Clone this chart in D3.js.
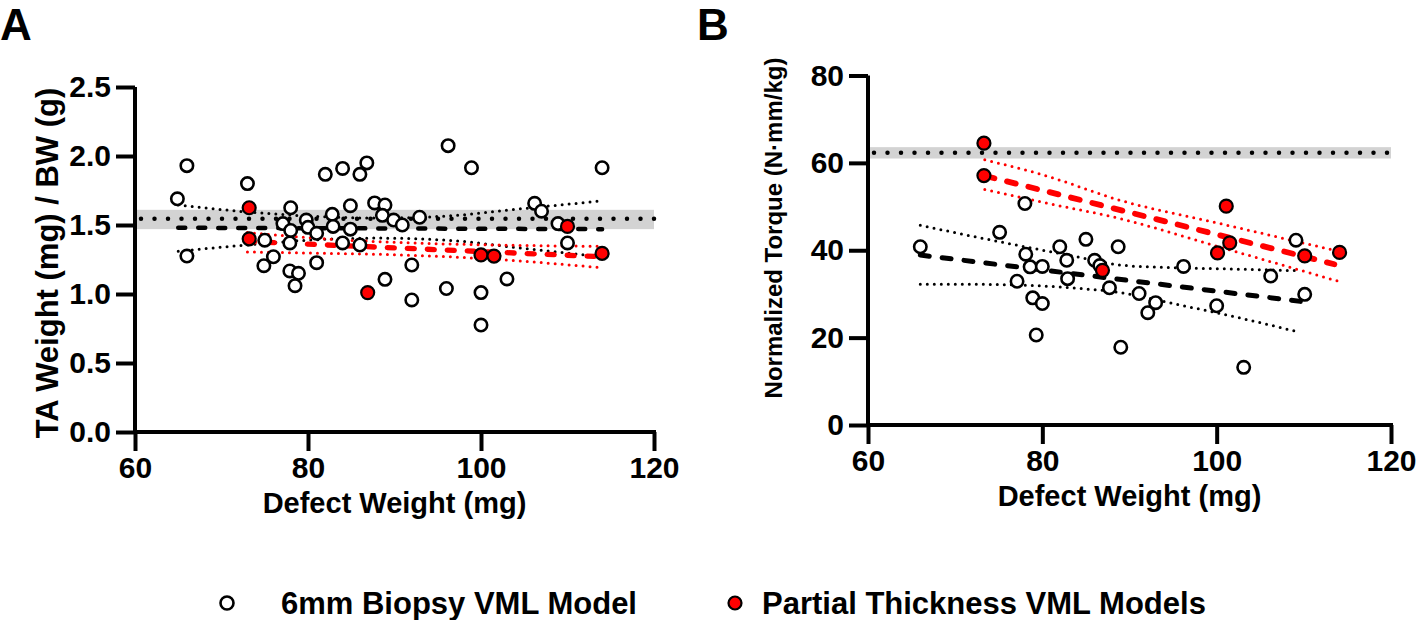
<!DOCTYPE html>
<html><head><meta charset="utf-8">
<script src="https://cdn.jsdelivr.net/npm/d3@7"></script>
<style>
body{margin:0;background:#fff;}
text{font-family:"Liberation Sans",Arial,sans-serif;font-weight:bold;fill:#000;}
</style></head>
<body>
<svg id="c" width="1424" height="620"></svg>
<script>
// ---------- DATA ----------
const xTicks = [60, 80, 100, 120];
const yTicksA = [0, 0.5, 1.0, 1.5, 2.0, 2.5];
const yTicksB = [0, 20, 40, 60, 80];

// Panel A: 6mm biopsy (white)
const bioAx = [66.0,64.9,66.0,73.0,78.0,77.1,78.0,75.0,77.9,76.0,74.9,77.9,78.9,78.5,79.8,80.0,81.0,81.0,82.8,82.9,82.0,84.0,86.0,86.8,84.9,84.9,84.0,86.0,87.7,88.9,88.6,89.9,90.9,88.9,92.0,92.0,96.2,98.9,114.0,106.2,107.0,108.9,110.0,92.9,96.0,100.0,103.0,100.0];
const bioAy = [1.93,1.69,1.275,1.80,1.625,1.51,1.46,1.39,1.37,1.27,1.205,1.167,1.15,1.06,1.536,1.483,1.44,1.227,1.577,1.49,1.867,1.91,1.867,1.95,1.64,1.47,1.37,1.355,1.66,1.645,1.57,1.536,1.50,1.106,1.21,0.957,2.075,1.915,1.915,1.657,1.60,1.51,1.37,1.556,1.04,1.01,1.109,0.775];
// Panel A: partial thickness (red)
const ptAx = [73.2,73.2,86.9,100.0,101.5,110.0,114.0];
const ptAy = [1.625,1.40,1.01,1.283,1.275,1.49,1.295];

// Panel B: 6mm biopsy (white)
const bioBx = [66.0,78.0,75.1,78.1,78.6,80.0,77.1,78.9,80.0,79.3,82.0,82.8,82.9,85.0,86.0,86.6,87.7,88.7,89.0,96.2,106.2,109.1,110.1,100.0,91.1,93.0,92.1,103.1];
const bioBy = [40.8,50.7,44.1,39.1,36.2,36.3,32.9,29.1,27.8,20.6,40.8,37.7,33.5,42.5,37.7,36.5,31.4,40.8,17.8,36.3,34.1,42.3,29.9,27.3,30.1,28.0,25.7,13.2];
// Panel B: partial thickness (red)
const ptBx = [73.3,73.3,86.9,100.1,101.1,101.5,110.1,114.1];
const ptBy = [64.5,57.1,35.4,39.4,50.1,41.7,38.7,39.5];

// uninjured reference mean and band
const refA = {mean:1.545, lo:1.47, hi:1.61};
const refB = {mean:62.3, lo:61.0, hi:63.6};

// regression lines (endpoints) and confidence bands (read points)
const regBioA = [[65,1.48],[114,1.47]];
const ciBioAupX = [65,72,80,88,96,105,114];
const ciBioAup  = [1.645,1.60,1.565,1.55,1.565,1.62,1.675];
const ciBioAloX = [65,72,80,88,96,105,114];
const ciBioAlo  = [1.31,1.35,1.39,1.405,1.39,1.33,1.27];
const regPtA = [[73,1.38],[114,1.27]];
const ciPtAupX = [73,82,91,102,114];
const ciPtAup  = [1.445,1.40,1.372,1.355,1.345];
const ciPtAloX = [73,82,91,102,114];
const ciPtAlo  = [1.305,1.295,1.283,1.25,1.19];

const regBioB = [[66,38.9],[109.6,28.3]];
const ciBioBupX = [66,72,78,84,89,95,102,109.6];
const ciBioBup  = [45.7,43.2,40.8,38.5,36.6,36.0,35.7,35.3];
const ciBioBloX = [66,72,78,84,89,95,102,109.6];
const ciBioBlo  = [32.2,32.2,32.0,31.3,30.3,27.8,24.8,21.2];
const regPtB = [[73.5,57.0],[113.5,36.8]];
const ciPtBupX = [73.4,80,89,100.4,113.5];
const ciPtBup  = [60.7,57.3,51.4,46.1,40.0];
const ciPtBloX = [73.4,80,89,100.4,113.8];
const ciPtBlo  = [53.9,51.0,47.2,40.7,33.0];

const legendLabels = ["6mm Biopsy VML Model","Partial Thickness VML Models"];

// ---------- DRAW ----------
const svg = d3.select("#c");
const RED = "#ff0000";
const FF = '"Liberation Sans",Arial,sans-serif';

function zip(xs, ys){ return xs.map((x,i)=>[x,ys[i]]); }

function panel(cfg){
  const g = svg.append("g");
  const x = d3.scaleLinear().domain([60,120]).range([cfg.x0, cfg.x1]);
  const y = d3.scaleLinear().domain(cfg.ydom).range([cfg.y0, cfg.y1]);
  const line = d3.line().x(d=>x(d[0])).y(d=>y(d[1]));
  const cline = d3.line().x(d=>x(d[0])).y(d=>y(d[1])).curve(d3.curveMonotoneX);

  // reference band
  g.append("rect").attr("x", x(60)).attr("width", x(120)-x(60))
    .attr("y", y(cfg.ref.hi)).attr("height", y(cfg.ref.lo)-y(cfg.ref.hi))
    .attr("fill", "#d3d3d3");
  g.append("path").attr("d", line([[60,cfg.ref.mean],[120,cfg.ref.mean]]))
    .attr("stroke","#000").attr("stroke-width",4.5).attr("stroke-linecap","round")
    .attr("stroke-dasharray","0 13.5").attr("fill","none").attr("transform","translate(6,0)");

  // regression + CI
  const ci = (data,color)=> g.append("path").attr("d", cline(data)).attr("fill","none")
      .attr("stroke",color).attr("stroke-width",3).attr("stroke-linecap","round").attr("stroke-dasharray","0 7");
  ci(cfg.bioUp,"#000"); ci(cfg.bioLo,"#000");
  g.append("path").attr("d", line(cfg.bioReg)).attr("fill","none").attr("stroke","#000")
    .attr("stroke-width",cfg.dashW).attr("stroke-linecap","round").attr("stroke-dasharray",cfg.dash);
  ci(cfg.ptUp,RED); ci(cfg.ptLo,RED);
  g.append("path").attr("d", line(cfg.ptReg)).attr("fill","none").attr("stroke",RED)
    .attr("stroke-width",cfg.dashW+0.8).attr("stroke-linecap","round").attr("stroke-dasharray",cfg.dash);

  // points
  g.selectAll("circle.bio").data(cfg.bio).join("circle").attr("class","bio")
    .attr("cx",d=>x(d[0])).attr("cy",d=>y(d[1])).attr("r",6.2)
    .attr("fill","#fff").attr("stroke","#000").attr("stroke-width",2.6);
  g.selectAll("circle.pt").data(cfg.pt).join("circle").attr("class","pt")
    .attr("cx",d=>x(d[0])).attr("cy",d=>y(d[1])).attr("r",6.5)
    .attr("fill",RED).attr("stroke","#000").attr("stroke-width",2.2);

  // axes
  const ax = g.append("g").attr("transform",`translate(0,${cfg.y0})`)
    .call(d3.axisBottom(x).tickValues(xTicks).tickSize(19).tickSizeOuter(0).tickPadding(6));
  const ay = g.append("g").attr("transform",`translate(${cfg.x0},0)`)
    .call(d3.axisLeft(y).tickValues(cfg.yticks).tickFormat(cfg.fmt).tickSize(19).tickSizeOuter(0).tickPadding(5));
  [ax,ay].forEach(a=>{
    a.selectAll("path,line").attr("stroke","#000").attr("stroke-width",4);
    a.selectAll("text").style("font-size","30px").style("font-family",FF).style("font-weight","bold");
  });
  ay.select(".domain").attr("d",`M0,${cfg.y0+2}V${cfg.y1}`);
  ax.select(".domain").attr("d",`M${cfg.x0-2},0H${cfg.x1+2}`);

  // titles
  g.append("text").attr("x",(cfg.x0+cfg.x1)/2).attr("y",cfg.xtY).attr("text-anchor","middle")
    .style("font-size","29px").text("Defect Weight (mg)");
  g.append("text").attr("transform",`translate(${cfg.ytX},${cfg.ytY}) rotate(-90)`).attr("text-anchor","middle")
    .style("font-size",cfg.ytSize).text(cfg.ytitle);
  g.append("text").attr("x",cfg.lx).attr("y",40).style("font-size","44px").text(cfg.letter);
}

panel({x0:135,x1:654,y0:432,y1:87,ydom:[0,2.5],yticks:yTicksA,fmt:d3.format(".1f"),
  ref:refA,bio:zip(bioAx,bioAy),pt:zip(ptAx,ptAy),
  bioReg:regBioA,bioUp:zip(ciBioAupX,ciBioAup),bioLo:zip(ciBioAloX,ciBioAlo),
  ptReg:regPtA,ptUp:zip(ciPtAupX,ciPtAup),ptLo:zip(ciPtAloX,ciPtAlo),
  dash:"7 13",dashW:4.5,
  xtY:513,ytX:58,ytY:263,ytSize:"31px",ytitle:"TA Weight (mg) / BW (g)",lx:0,letter:"A"});

panel({x0:868,x1:1391,y0:425,y1:75.5,ydom:[0,80],yticks:yTicksB,fmt:d3.format("d"),
  ref:refB,bio:zip(bioBx,bioBy),pt:zip(ptBx,ptBy),
  bioReg:regBioB,bioUp:zip(ciBioBupX,ciBioBup),bioLo:zip(ciBioBloX,ciBioBlo),
  ptReg:regPtB,ptUp:zip(ciPtBupX,ciPtBup),ptLo:zip(ciPtBloX,ciPtBlo),
  dash:"9 13",dashW:5,
  xtY:506,ytX:782,ytY:228,ytSize:"24px",ytitle:"Normalized Torque (N·mm/kg)",lx:697,letter:"B"});

// legend
const leg = svg.append("g");
const legItems = [{x:227,fill:"#fff",sw:2.6,t:legendLabels[0],tx:281},{x:735,fill:RED,sw:2.2,t:legendLabels[1],tx:762}];
legItems.forEach(d=>{
  leg.append("circle").attr("cx",d.x).attr("cy",603).attr("r",6.5).attr("fill",d.fill).attr("stroke","#000").attr("stroke-width",d.sw);
  leg.append("text").attr("x",d.tx).attr("y",614).style("font-size","31px").text(d.t);
});
</script>
</body></html>
